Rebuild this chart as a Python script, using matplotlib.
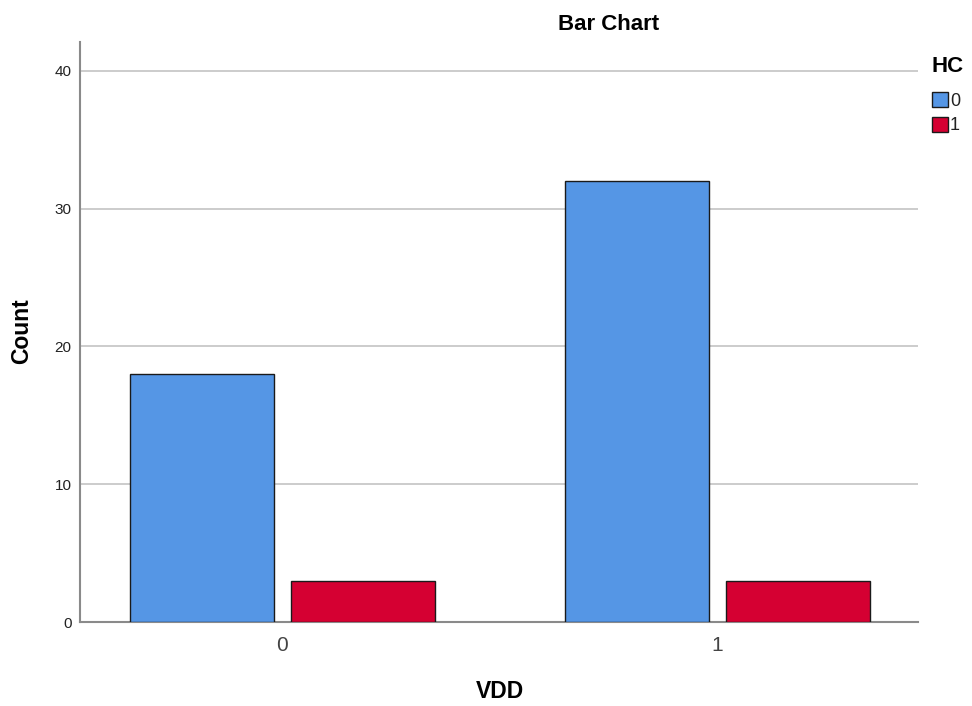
import matplotlib
matplotlib.use("Agg")
import matplotlib.pyplot as plt
from matplotlib.patches import Rectangle
import numpy as np

plt.rcParams["font.family"] = ["Liberation Sans", "DejaVu Sans"]

categories = ["0", "1"]
hc_labels = ["0", "1"]
hc0 = [18, 32]
hc1 = [3, 3]
yticks = [0, 10, 20, 30, 40]

fig = plt.figure(figsize=(9.72, 7.06), dpi=100)
ax = fig.add_axes([80/972, 84/706, (918-80)/972, (622-42)/706])

x = np.arange(len(categories))
w = 0.331
off = 0.185
blue = "#5596E5"
red = "#D50032"
ax.bar(x - off, hc0, width=w, color=blue, edgecolor="#1a1a1a", linewidth=1.0, zorder=3)
ax.bar(x + off, hc1, width=w, color=red, edgecolor="#1a1a1a", linewidth=1.0, zorder=3)

ax.set_xlim(-0.4655, 1.461)
ax.set_ylim(0, 42.1)
ax.set_yticks(yticks)
ax.set_yticklabels([str(t) for t in yticks], fontsize=11, color="#222222")
ax.set_xticks(x)
ax.set_xticklabels(categories, fontsize=15, color="#444444")
ax.tick_params(axis="both", length=0, pad=6)
ax.tick_params(axis="x", pad=10)
ax.yaxis.grid(True, color="#c8c8c8", linewidth=1.3, zorder=0)
ax.set_axisbelow(True)
for s in ["top", "right"]:
    ax.spines[s].set_visible(False)
for s in ["left", "bottom"]:
    ax.spines[s].set_color("#8a8a8a")
    ax.spines[s].set_linewidth(1.5)

fig.text(609/972, 1 - 24/706, "Bar Chart", ha="center", va="center", fontsize=16, fontweight="bold")
fig.text(22/972, 1 - 331/706, "Count", ha="center", va="center", rotation=90, fontsize=16.5, fontweight="bold")
fig.text(500/972, 1 - 691/706, "VDD", ha="center", va="center", fontsize=16.5, fontweight="bold")

# legend
fig.text(948/972, 1 - 66/706, "HC", ha="center", va="center", fontsize=16, fontweight="bold")
for i, (lab, col) in enumerate(zip(hc_labels, [blue, red])):
    yc = 99 + i * 25
    fig.add_artist(Rectangle((932/972, 1 - (yc + 8)/706), 16/972, 15/706,
                             transform=fig.transFigure, facecolor=col, edgecolor="#1a1a1a", linewidth=1.0))
    fig.text(950/972, 1 - (yc + 2)/706, lab, ha="left", va="center", fontsize=13, color="#222222")

fig.savefig("out.png", dpi=100)
